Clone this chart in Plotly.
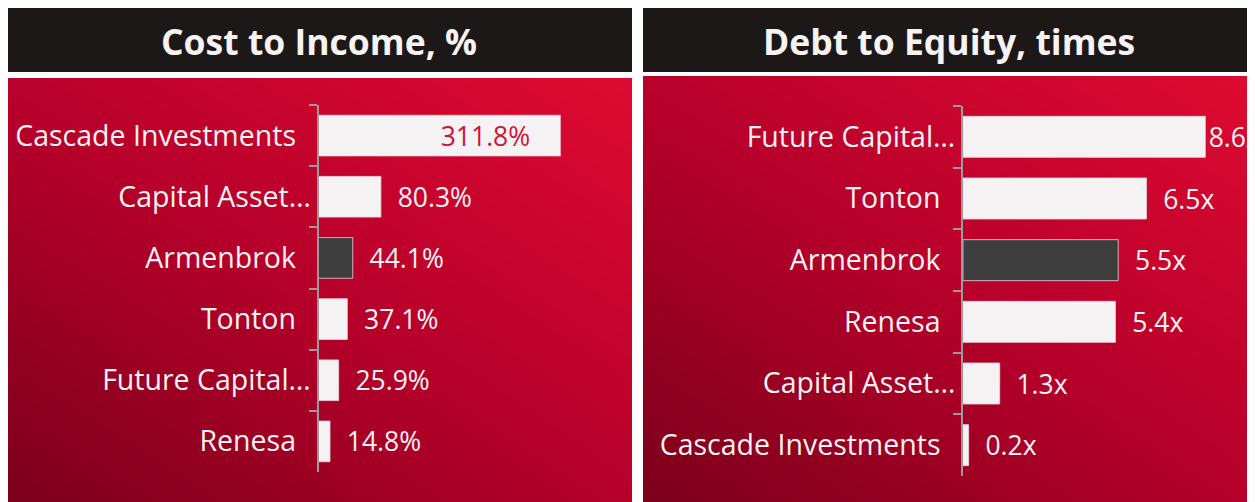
import plotly.graph_objects as go

# ---------------- data ----------------
ci_categories = ["Cascade Investments", "Capital Asset…", "Armenbrok", "Tonton", "Future Capital…", "Renesa"]
ci_values = [311.8, 80.3, 44.1, 37.1, 25.9, 14.8]

de_categories = ["Future Capital…", "Tonton", "Armenbrok", "Renesa", "Capital Asset…", "Cascade Investments"]
de_values = [8.6, 6.5, 5.5, 5.4, 1.3, 0.2]

highlight = "Armenbrok"
titles = ["Cost to Income, %", "Debt to Equity, times"]

# ---------------- style ----------------
W, H = 1255, 502
OFF = 8  # page body margin
BAR = "#f5f2f3"
BAR_HI = "#3e3e3e"
AXIS = "#9c9a9a"
TXT = "#f7f3f3"
HEADER = "#1c1818"
LABEL_FONT = "Open Sans"
NB = "\u00a0"

def px_x(p):
    return min(1.0, max(0.0, (p - OFF) / W))

def px_y(p):
    return min(1.0, max(0.0, 1 - (p - OFF) / H))

fig = go.Figure()

# gradient backgrounds (first subplots so they sit beneath the bars)
bg_scale = [[0, "#7a0019"], [0.5, "#b5002a"], [1, "#df0a31"]]
for i, (x0, x1, ytop) in enumerate([(6, 632, 78), (643, 1263, 76)]):
    sfx = "" if i == 0 else "2"
    fig.add_trace(go.Heatmap(
        x=[0, 1], y=[0, 1], z=[[0, 0.5], [0.55, 1]],
        colorscale=bg_scale, zmin=0, zmax=1, zsmooth="best",
        showscale=False, hoverinfo="skip",
        xaxis="x" + sfx, yaxis="y" + sfx,
    ))
    fig.update_layout(**{
        "xaxis" + sfx: dict(domain=[px_x(x0), px_x(x1)], range=[0, 1], visible=False,
                            fixedrange=True, anchor="y" + sfx, automargin=False),
        "yaxis" + sfx: dict(domain=[0, px_y(ytop)], range=[0, 1], visible=False,
                            fixedrange=True, anchor="x" + sfx, automargin=False),
    })

def bar_panel(cats, vals, fmt, sfx, xdom, ydom, inside_max):
    vmax = max(vals)
    colors = [BAR_HI if c == highlight else BAR for c in cats]
    texts, positions, tcolors = [], [], []
    for v in vals:
        label = fmt(v)
        if v == vmax and inside_max:
            texts.append(label + NB * 4)
            positions.append("inside")
            tcolors.append("#d21238")
        elif v == vmax:
            texts.append(label)
            positions.append("outside")
            tcolors.append(TXT)
        else:
            texts.append(NB * 2 + label)
            positions.append("outside")
            tcolors.append(TXT)
    fig.add_trace(go.Bar(
        x=vals, y=cats, orientation="h",
        marker=dict(color=colors, line=dict(color="rgba(235,215,220,0.8)", width=1)),
        text=texts, textposition=positions, insidetextanchor="end",
        textfont=dict(family=LABEL_FONT, size=26.5, color=tcolors),
        outsidetextfont=dict(family=LABEL_FONT, size=26.5, color=tcolors),
        insidetextfont=dict(family=LABEL_FONT, size=26.5, color=tcolors),
        constraintext="none", cliponaxis=False, hoverinfo="skip",
        xaxis="x" + sfx, yaxis="y" + sfx,
    ))
    ticktext = [c if c.endswith("…") else c + NB * 2 for c in cats]
    fig.update_layout(**{
        "xaxis" + sfx: dict(domain=xdom, range=[0, vmax], visible=False, fixedrange=True,
                            anchor="y" + sfx, automargin=False),
        "yaxis" + sfx: dict(
            domain=ydom, autorange="reversed", type="category", anchor="x" + sfx,
            automargin=False,
            tickvals=cats, ticktext=ticktext,
            showline=True, linecolor=AXIS, linewidth=2,
            ticks="outside", tickson="boundaries", ticklen=8, tickwidth=2, tickcolor=AXIS,
            ticklabelstandoff=0,
            tickfont=dict(family=LABEL_FONT, size=28.5, color=TXT),
            showgrid=False, zeroline=False, fixedrange=True,
        ),
    })

bar_panel(ci_categories, ci_values, lambda v: f"{v:.1f}%", "3",
          [px_x(318.5), px_x(560.7)], [px_y(472), px_y(105)], True)
bar_panel(de_categories, de_values, lambda v: f"{v:.1f}x", "4",
          [px_x(963), px_x(1205.7)], [px_y(476), px_y(106)], False)

# headers
for (x0, x1), title in zip([(6, 632), (643, 1263)], titles):
    fig.add_shape(type="rect", xref="paper", yref="paper",
                  x0=px_x(x0), x1=px_x(x1), y0=px_y(72), y1=px_y(8),
                  fillcolor=HEADER, line=dict(width=0), layer="below")
    fig.add_annotation(text=title, xref="paper", yref="paper",
                       x=px_x((x0 + min(x1, 1255)) / 2), y=px_y(41),
                       xanchor="center", yanchor="middle", showarrow=False,
                       font=dict(family="Open Sans", size=35.5, color=TXT, weight="bold"))

fig.update_layout(
    width=W, height=H, autosize=False,
    margin=dict(l=0, r=0, t=0, b=0, autoexpand=False),
    paper_bgcolor="white", plot_bgcolor="rgba(0,0,0,0)",
    bargap=0.335, showlegend=False,
)

fig.write_html("out.html")
